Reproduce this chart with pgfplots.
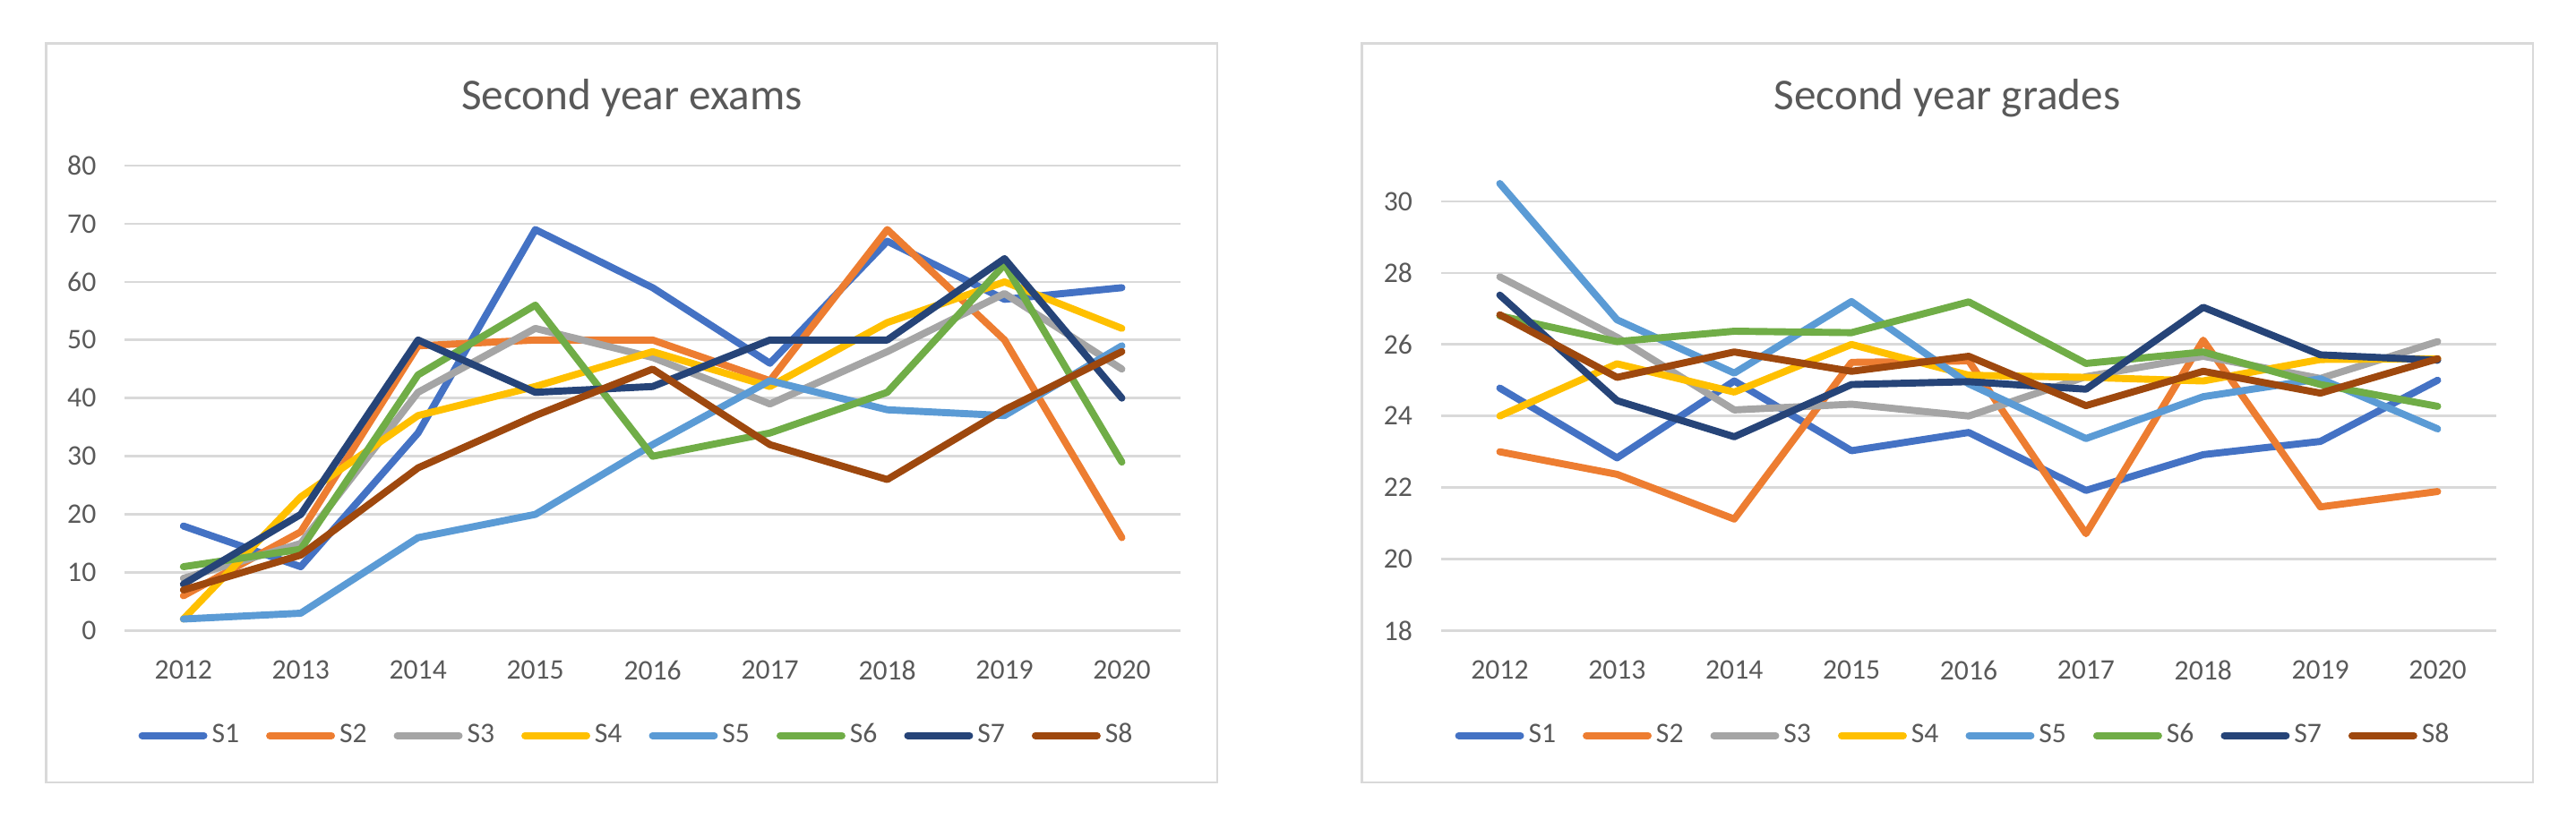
\documentclass[border=0pt]{standalone}
\usepackage{fontspec}
\setmainfont{Carlito}
\usepackage{pgfplots}
\pgfplotsset{compat=1.18}
\definecolor{cS1}{HTML}{4472C4}
\definecolor{cS2}{HTML}{ED7D31}
\definecolor{cS3}{HTML}{A5A5A5}
\definecolor{cS4}{HTML}{FFC000}
\definecolor{cS5}{HTML}{5B9BD5}
\definecolor{cS6}{HTML}{70AD47}
\definecolor{cS7}{HTML}{264478}
\definecolor{cS8}{HTML}{9E480E}
\definecolor{txt}{HTML}{595959}
\definecolor{gridc}{HTML}{D9D9D9}

\pgfplotsset{
  xlchart/.style={
    scale only axis,
    height=51.95mm,
    anchor=south west,
    xmin=2011.5, xmax=2020.5,
    xtick={2012,2013,2014,2015,2016,2017,2018,2019,2020},
    axis line style={draw=none},
    major tick length=0pt,
    tick style={draw=none},
    ymajorgrids,
    major grid style={color=gridc, line width=0.75pt},
    /pgf/number format/1000 sep={},
    /pgf/number format/assume math mode=true,
    tick label style={font=\fontsize{9pt}{11pt}\selectfont, text=txt},
    yticklabel style={anchor=east, inner sep=0pt, xshift=-3.13mm},
    xticklabel style={anchor=north, inner sep=0pt, yshift=-3.25mm},
    clip=false,
    legend cell align=left,
    legend style={draw=none, fill=none, inner sep=0pt, outer sep=0pt,
      legend columns=8, anchor=center,
      font=\fontsize{9pt}{11pt}\selectfont, text=txt,
      nodes={inner sep=0pt},
      /tikz/every odd column/.style={column sep=0.5mm},
      /tikz/every even column/.style={column sep=3mm}},
    legend image code/.code={\draw[##1, line cap=round] (0mm,0mm) -- (6.9mm,0mm);},
    every axis plot/.append style={line width=2.25pt, line join=round, line cap=round},
  }
}

\begin{document}
\begin{tikzpicture}
\path (0,0) rectangle (287.6mm,91.6mm);
\draw[gridc, line width=0.75pt] (5.17mm,4.2mm) rectangle (135.9mm,86.77mm);
\draw[gridc, line width=0.75pt] (152.07mm,4.2mm) rectangle (282.8mm,86.77mm);
\node[anchor=base, text=txt, font=\fontsize{14pt}{17pt}\selectfont] at (70.55mm,79.3mm) {Second year exams};
\node[anchor=base, text=txt, font=\fontsize{14pt}{17pt}\selectfont] at (217.4mm,79.3mm) {Second year grades};

\begin{axis}[xlchart, at={(13.93mm,21.15mm)}, width=117.87mm,
  ymin=0, ymax=80, ytick={0,10,20,30,40,50,60,70,80},
  legend style={at={(0.4838,-0.2256)}}]
\addplot[cS1] coordinates {(2012,18) (2013,11) (2014,34) (2015,69) (2016,59) (2017,46) (2018,67) (2019,57) (2020,59)};
\addplot[cS2] coordinates {(2012,6) (2013,17) (2014,49) (2015,50) (2016,50) (2017,43) (2018,69) (2019,50) (2020,16)};
\addplot[cS3] coordinates {(2012,9) (2013,15) (2014,41) (2015,52) (2016,47) (2017,39) (2018,48) (2019,58) (2020,45)};
\addplot[cS4] coordinates {(2012,2) (2013,23) (2014,37) (2015,42) (2016,48) (2017,42) (2018,53) (2019,60) (2020,52)};
\addplot[cS5] coordinates {(2012,2) (2013,3) (2014,16) (2015,20) (2016,32) (2017,43) (2018,38) (2019,37) (2020,49)};
\addplot[cS6] coordinates {(2012,11) (2013,14) (2014,44) (2015,56) (2016,30) (2017,34) (2018,41) (2019,63) (2020,29)};
\addplot[cS7] coordinates {(2012,8) (2013,20) (2014,50) (2015,41) (2016,42) (2017,50) (2018,50) (2019,64) (2020,40)};
\addplot[cS8] coordinates {(2012,7) (2013,13) (2014,28) (2015,37) (2016,45) (2017,32) (2018,26) (2019,38) (2020,48)};
\legend{S1,S2,S3,S4,S5,S6,S7,S8}
\end{axis}

\begin{axis}[xlchart, at={(160.9mm,21.15mm)}, width=117.8mm,
  ymin=18, ymax=31, ytick={18,20,22,24,26,28,30},
  legend style={at={(0.4843,-0.2256)}}]
\addplot[cS1] coordinates {(2012,24.78) (2013,22.83) (2014,24.98) (2015,23.03) (2016,23.54) (2017,21.92) (2018,22.92) (2019,23.29) (2020,25.0)};
\addplot[cS2] coordinates {(2012,23.0) (2013,22.37) (2014,21.12) (2015,25.5) (2016,25.54) (2017,20.71) (2018,26.12) (2019,21.46) (2020,21.89)};
\addplot[cS3] coordinates {(2012,27.89) (2013,26.2) (2014,24.17) (2015,24.33) (2016,24.0) (2017,25.1) (2018,25.67) (2019,25.05) (2020,26.08)};
\addplot[cS4] coordinates {(2012,24.0) (2013,25.46) (2014,24.67) (2015,26.0) (2016,25.14) (2017,25.08) (2018,24.98) (2019,25.58) (2020,25.6)};
\addplot[cS5] coordinates {(2012,30.5) (2013,26.69) (2014,25.2) (2015,27.2) (2016,24.9) (2017,23.37) (2018,24.54) (2019,25.04) (2020,23.64)};
\addplot[cS6] coordinates {(2012,26.8) (2013,26.08) (2014,26.37) (2015,26.33) (2016,27.19) (2017,25.47) (2018,25.79) (2019,24.88) (2020,24.27)};
\addplot[cS7] coordinates {(2012,27.38) (2013,24.43) (2014,23.42) (2015,24.88) (2016,24.96) (2017,24.75) (2018,27.04) (2019,25.71) (2020,25.56)};
\addplot[cS8] coordinates {(2012,26.83) (2013,25.08) (2014,25.79) (2015,25.25) (2016,25.67) (2017,24.29) (2018,25.25) (2019,24.64) (2020,25.6)};
\legend{S1,S2,S3,S4,S5,S6,S7,S8}
\end{axis}
\end{tikzpicture}
\end{document}
